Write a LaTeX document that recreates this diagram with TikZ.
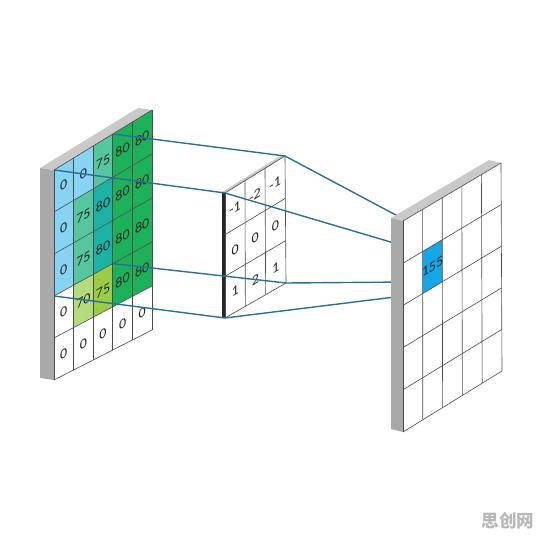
\documentclass[tikz,border=0pt]{standalone}
\usepackage{fontspec}
\setsansfont{Carlito}
\newfontfamily\cjkfont{Noto Sans CJK SC}
\usepackage{xcolor}
\usetikzlibrary{calc}

\definecolor{SkyCell}{HTML}{86D3F3}
\definecolor{SeaCell}{HTML}{55C69E}
\definecolor{TealCell}{HTML}{1DB2A6}
\definecolor{GreenCell}{HTML}{1DB25A}
\definecolor{LimeCell}{HTML}{B6DB7E}
\definecolor{OliveCell}{HTML}{9CCB45}
\definecolor{OutCell}{HTML}{14A6E6}
\definecolor{Link}{HTML}{28709A}
\definecolor{SideGray}{HTML}{A9A9A9}
\definecolor{TopGray}{HTML}{C9C9C9}

\tikzset{
    gridline/.style={draw=black!70, line width=.35pt},
    value/.style={font=\sffamily\fontsize{8}{8}\selectfont, text=black!85,
                  yslant=.6, inner sep=0pt},
    link/.style={draw=Link, line width=.8pt},
}

\begin{document}
\begin{tikzpicture}
    [font=\sffamily, x=.02cm, y=-.02cm,
    ]
    \useasboundingbox (0,0) rectangle (539,540);

    % Corners of the front faces: input, kernel, output
    \foreach \p / \ax / \ay / \bx / \by / \cx / \cy / \dx / \dy in
             {L/54/170/152/110/152/330/54/380,
              K/225/193/285/156/286/283/225/318,
              R/403/221/501/163/502/371/403/432} {
        \coordinate (\p-tl) at (\ax, \ay);
        \coordinate (\p-tr) at (\bx, \by);
        \coordinate (\p-br) at (\cx, \cy);
        \coordinate (\p-bl) at (\dx, \dy);
    }

    % Grid points, (\p\i\j) = column i, row j
    \foreach \p / \n in {L/5, K/3, R/5} {
        \foreach \i in {0,...,\n} {
            \coordinate (\p-top\i) at ($ (\p-tl)!\i/\n!(\p-tr) $);
            \coordinate (\p-bot\i) at ($ (\p-bl)!\i/\n!(\p-br) $);
            \foreach \j in {0,...,\n}
                \coordinate (\p\i\j) at ($ (\p-top\i)!\j/\n!(\p-bot\i) $);
        }
    }

    % Input: side and top of the slab
    \fill[SideGray] (L-tl) -- ++(-14,-2) -- ($ (L-bl)+(-14,-2) $) -- (L-bl) -- cycle;
    \fill[TopGray] (L-tl) -- ++(-14,-2) -- ($ (L-tr)+(-14,-2) $) -- (L-tr) -- cycle;

    % Input: cells
    \foreach \r / \cols / \vals [evaluate=\r as \rr using int(\r+1)] in
             {0/{SkyCell,SkyCell,SeaCell,GreenCell,GreenCell}/{0,0,75,80,80},
              1/{SkyCell,SeaCell,TealCell,GreenCell,GreenCell}/{0,75,80,80,80},
              2/{SkyCell,SeaCell,TealCell,GreenCell,GreenCell}/{0,75,80,80,80},
              3/{white,LimeCell,OliveCell,GreenCell,GreenCell}/{0,70,75,80,80},
              4/{white,white,white,white,white}/{0,0,0,0,0}} {
        \foreach \col [count=\cc, evaluate=\cc as \c using int(\cc-1)] in \cols
            \fill[\col] (L\c\r) -- (L\cc\r) -- (L\cc\rr) -- (L\c\rr) -- cycle;
        \foreach \v [count=\cc, evaluate=\cc as \c using int(\cc-1)] in \vals
            \node[value] (in\c\r) at ($ (L\c\r)!.5!(L\cc\rr) $) {\v};
    }
    \foreach \i in {0,...,5} {
        \draw[gridline] (L-top\i) -- (L-bot\i);
        \draw[gridline] (L0\i) -- (L5\i);
    }

    % Kernel: thin slab
    \fill[white] (K-tl) -- (K-tr) -- (K-br) -- (K-bl) -- cycle;
    \fill[black!85] (K-tl) -- ++(-3,-1) -- ($ (K-bl)+(-3,-1) $) -- (K-bl) -- cycle;
    \fill[TopGray] (K-tl) -- ++(-3,-1) -- ($ (K-tr)+(-3,-1) $) -- (K-tr) -- cycle;
    \foreach \i in {0,...,3} {
        \draw[gridline] (K-top\i) -- (K-bot\i);
        \draw[gridline] (K0\i) -- (K3\i);
    }
    \foreach \r / \vals [evaluate=\r as \rr using int(\r+1)] in
             {0/{-1,-2,-1}, 1/{0,0,0}, 2/{1,2,1}} {
        \foreach \v [count=\cc, evaluate=\cc as \c using int(\cc-1)] in \vals
            \node[value] (ker\c\r) at ($ (K\c\r)!.5!(K\cc\rr) $) {\v};
    }

    % Receptive field -> kernel -> output cell
    \foreach \a / \b in {00/11, 30/21, 03/12, 33/22}
        \draw[link] (L\a) -- (K\a) -- (R\b);

    % Output: slab drawn over the lines
    \fill[SideGray] (R-tl) -- ++(-12,-3) -- ($ (R-bl)+(-12,-3) $) -- (R-bl) -- cycle;
    \fill[TopGray] (R-tl) -- ++(-12,-3) -- ($ (R-tr)+(-12,-3) $) -- (R-tr) -- cycle;
    \fill[white] (R-tl) -- (R-tr) -- (R-br) -- (R-bl) -- cycle;
    \fill[OutCell] (R11) -- (R21) -- (R22) -- (R12) -- cycle;
    \node[value] (out) at ($ (R11)!.5!(R22) $) {155};
    \foreach \i in {0,...,5} {
        \draw[gridline] (R-top\i) -- (R-bot\i);
        \draw[gridline] (R0\i) -- (R5\i);
    }

    % Watermark
    \node[text=black!28, font=\cjkfont\bfseries\fontsize{10}{10}\selectfont]
        (mark) at (508,521) {思创网};
\end{tikzpicture}
\end{document}
